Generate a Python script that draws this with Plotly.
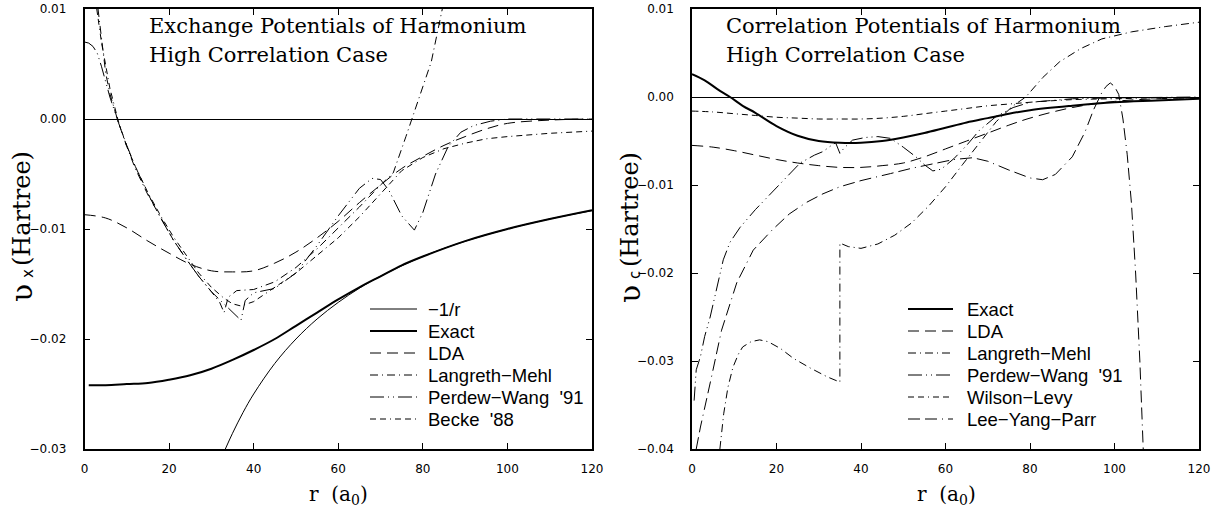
import plotly.graph_objects as go

# ---------------- Exchange potentials (left panel) ----------------
r_inv = [33.3, 35, 37.5, 40, 45, 50, 55, 60, 65, 70, 80, 90, 100, 110, 120]
v_inv = [-0.0300, -0.02857, -0.02667, -0.0250, -0.02222, -0.0200, -0.01818, -0.01667,
         -0.01538, -0.01429, -0.0125, -0.01111, -0.0100, -0.00909, -0.00833]

r_x_exact = [1, 5, 10, 15, 20, 25, 30, 35, 40, 45, 50, 55, 60, 65, 70, 75, 80, 90, 100, 110, 120]
v_x_exact = [-0.0242, -0.0242, -0.0241, -0.0240, -0.0237, -0.0233, -0.0227, -0.0219, -0.0210,
             -0.0200, -0.0188, -0.0176, -0.0164, -0.0153, -0.0143, -0.0133, -0.0125, -0.0111,
             -0.0100, -0.0091, -0.0083]

r_x_lda = [0, 5, 10, 15, 20, 25, 30, 35, 40, 45, 50, 55, 60, 65, 70, 75, 80, 85, 90, 95, 100, 110, 120]
v_x_lda = [-0.0087, -0.0090, -0.0099, -0.0111, -0.0122, -0.0132, -0.0138, -0.0139, -0.0138, -0.0131,
           -0.0121, -0.0108, -0.0093, -0.0076, -0.0060, -0.0045, -0.0034, -0.0024, -0.0016,
           -0.0009, -0.0004, -0.0001, 0.0]

r_x_lm = [3.2, 4, 5, 6, 8, 10, 12, 15, 18, 21, 24, 27, 30, 32, 33, 34, 36, 40, 45, 50, 55, 60,
          65, 70, 73, 76, 79, 82, 84.6]
v_x_lm = [0.0100, 0.0075, 0.0042, 0.0023, -0.0003, -0.0025, -0.0045, -0.0069, -0.0090, -0.0110,
          -0.0127, -0.0143, -0.0157, -0.0167, -0.0176, -0.0162, -0.0156, -0.0155, -0.0148,
          -0.0135, -0.0118, -0.0099, -0.0080, -0.0060, -0.0049, -0.0016, 0.0017, 0.0052, 0.0100]

r_x_pw = [0, 1, 2, 3, 4, 5, 6, 8, 10, 12, 15, 18, 21, 24, 27, 30, 33, 35, 37, 38, 40, 45, 50,
          55, 60, 65, 68, 70, 72, 75, 78, 80, 83, 86, 89, 92, 96, 100, 110, 120]
v_x_pw = [0.0070, 0.0069, 0.0066, 0.0060, 0.0048, 0.0033, 0.0020, -0.0003, -0.0024, -0.0043,
          -0.0068, -0.0090, -0.0110, -0.0127, -0.0143, -0.0157, -0.0168, -0.0176, -0.0183,
          -0.0165, -0.0158, -0.0154, -0.0140, -0.0115, -0.0088, -0.0063, -0.0054, -0.0055,
          -0.0065, -0.0088, -0.0101, -0.0085, -0.0050, -0.0025, -0.0012, -0.0006, -0.0002,
          0.0, 0.0, 0.0]

r_x_b88 = [2.9, 4, 6, 8, 10, 12, 15, 18, 21, 24, 27, 30, 33, 35, 37, 40, 45, 50, 55, 60, 65,
           70, 75, 80, 85, 90, 95, 100, 110, 120]
v_x_b88 = [0.0100, 0.0070, 0.0028, -0.0002, -0.0025, -0.0043, -0.0067, -0.0088, -0.0107, -0.0124,
           -0.0140, -0.0153, -0.0163, -0.0168, -0.0170, -0.0166, -0.0153, -0.0140, -0.0124,
           -0.0108, -0.0089, -0.0068, -0.0047, -0.0035, -0.0027, -0.0022, -0.0018, -0.0016,
           -0.0013, -0.0011]

# ---------------- Correlation potentials (right panel) ----------------
r_c_exact = [0, 3, 6, 9, 12, 15, 20, 25, 30, 35, 40, 45, 50, 55, 60, 65, 70, 75, 80, 90, 100, 110, 120]
v_c_exact = [0.0026, 0.0019, 0.0009, 0.0000, -0.0010, -0.0018, -0.0033, -0.0044, -0.0050, -0.0052,
             -0.0052, -0.0050, -0.0046, -0.0041, -0.0035, -0.0029, -0.0024, -0.0019, -0.0015,
             -0.0010, -0.0006, -0.0004, -0.0002]

r_c_lda = [0, 5, 10, 15, 20, 25, 30, 35, 40, 45, 50, 55, 60, 65, 70, 75, 80, 90, 100, 110, 120]
v_c_lda = [-0.0055, -0.0057, -0.0061, -0.0066, -0.0071, -0.0075, -0.0078, -0.0080, -0.0080, -0.0078,
           -0.0075, -0.0068, -0.0059, -0.0050, -0.0041, -0.0032, -0.0024, -0.0012, -0.0005,
           -0.0002, -0.0001]

r_c_lm = [6.6, 7.5, 8.5, 9.7, 11, 12, 14, 16, 18, 21, 24, 28, 32, 35, 35, 37, 40, 44, 48, 52,
          56, 60, 64, 68, 72, 76, 79, 83, 87, 92, 97, 104, 112, 120]
v_c_lm = [-0.0400, -0.0360, -0.0330, -0.0307, -0.0292, -0.0284, -0.0278, -0.0276, -0.0278, -0.0286,
          -0.0297, -0.0308, -0.0318, -0.0324, -0.0166, -0.0170, -0.0172, -0.0167, -0.0157,
          -0.0143, -0.0124, -0.0102, -0.0077, -0.0052, -0.0028, -0.0010, 0.0000, 0.0022,
          0.0040, 0.0055, 0.0066, 0.0074, 0.0080, 0.0085]

r_c_pw = [0.5, 1, 2, 3, 4.3, 5.5, 7.4, 9, 11.4, 15, 19, 22, 25.6, 29, 31, 33, 34, 35, 36, 38,
          41, 44, 47, 50, 53, 55, 57, 59, 62, 65, 68, 72, 76, 80, 90, 100, 120]
v_c_pw = [-0.0345, -0.0310, -0.0295, -0.0272, -0.0250, -0.0225, -0.0185, -0.0165, -0.0148,
          -0.0128, -0.0108, -0.0092, -0.0075, -0.0066, -0.0062, -0.0055, -0.0052, -0.0064,
          -0.0058, -0.0049, -0.0046, -0.0045, -0.0047, -0.0057, -0.0068, -0.0077, -0.0084,
          -0.0082, -0.0070, -0.0055, -0.0038, -0.0022, -0.0012, -0.0006, -0.0002, -0.0001, 0.0]

r_c_wl = [0, 5, 10, 15, 20, 25, 30, 35, 40, 45, 50, 55, 60, 65, 70, 75, 80, 90, 100, 110, 120]
v_c_wl = [-0.0016, -0.0017, -0.0019, -0.0021, -0.0023, -0.0024, -0.0025, -0.0025, -0.0025, -0.0024,
          -0.0022, -0.0019, -0.0016, -0.0013, -0.0010, -0.0008, -0.0006, -0.0003, -0.0002,
          -0.0001, -0.0001]

r_c_lyp = [1.0, 2, 4.3, 7, 10.6, 14.5, 19, 23, 27, 31, 35, 40, 47, 52, 57, 62, 66.5, 70, 75, 80,
           83, 86, 90, 93, 95, 97, 98, 99, 100, 101, 102, 103, 104, 105, 106, 106.8]
v_c_lyp = [-0.0400, -0.0375, -0.0325, -0.0265, -0.0211, -0.0174, -0.0151, -0.0133, -0.0120,
           -0.0110, -0.0102, -0.0095, -0.0087, -0.0081, -0.0076, -0.0071, -0.0069, -0.0073,
           -0.0083, -0.0092, -0.0094, -0.0088, -0.0068, -0.0040, -0.0015, 0.0005, 0.0012,
           0.0016, 0.0012, 0.0003, -0.0025, -0.0065, -0.0120, -0.0200, -0.0300, -0.0400]

x_ticks = [0, 20, 40, 60, 80, 100, 120]
y_ticks_x = [-0.03, -0.02, -0.01, 0.0, 0.01]
y_ticks_c = [-0.04, -0.03, -0.02, -0.01, 0.0, 0.01]

names_x = ["\u22121/r", "Exact", "LDA", "Langreth\u2212Mehl", "Perdew\u2212Wang  '91", "Becke  '88"]
names_c = ["Exact", "LDA", "Langreth\u2212Mehl", "Perdew\u2212Wang  '91", "Wilson\u2212Levy",
           "Lee\u2212Yang\u2212Parr"]

W, H = 1225, 510
SERIF = "DejaVu Serif"
SANS = "DejaVu Sans"
LEG_FONT = "Liberation Sans"

SOLID = "solid"
DASH_LDA = "11px,6px"
DASH_LM = "8px,4px,1px,4px"
DASH_PW = "14px,4px,1px,4px,1px,4px"
DASH_SHORT = "6px,4px,6px,4px,1px,4px"
DASH_LYP = "12px,5px,12px,5px,1px,5px"

series_x = [(r_inv, v_inv, 1, SOLID, "spline"), (r_x_exact, v_x_exact, 2, SOLID, "spline"),
            (r_x_lda, v_x_lda, 1, DASH_LDA, "spline"), (r_x_lm, v_x_lm, 1, DASH_LM, "linear"),
            (r_x_pw, v_x_pw, 1, DASH_PW, "linear"), (r_x_b88, v_x_b88, 1, DASH_SHORT, "linear")]
series_c = [(r_c_exact, v_c_exact, 2, SOLID, "spline"), (r_c_lda, v_c_lda, 1, DASH_LDA, "spline"),
            (r_c_lm, v_c_lm, 1, DASH_LM, "linear"), (r_c_pw, v_c_pw, 1, DASH_PW, "linear"),
            (r_c_wl, v_c_wl, 1, DASH_SHORT, "spline"), (r_c_lyp, v_c_lyp, 1, DASH_LYP, "linear")]

fig = go.Figure()


def px_x(p):
    return p / W


def px_y(p):
    return 1 - p / H


shapes = []
ann = []


def text(x, y, s, size, angle=0, xanchor="left", family=SERIF):
    ann.append(dict(x=px_x(x), y=px_y(y), xref="paper", yref="paper", text=s,
                    showarrow=False, xanchor=xanchor, yanchor="middle", textangle=angle,
                    font=dict(family=family, size=size, color="black")))


def panel(series, names, axis, lx0, lx1, tx):
    for i, ((x, y, w, dash, shp), nm) in enumerate(zip(series, names)):
        fig.add_trace(go.Scatter(
            x=x, y=y, name=nm, mode="lines", showlegend=False,
            line=dict(color="black", width=w, dash=dash, shape=shp),
            xaxis="x" if axis == 1 else "x2", yaxis="y" if axis == 1 else "y2",
            hoverinfo="skip"))
        yy = 309 + 22 * i
        shapes.append(dict(type="line", xref="paper", yref="paper",
                           x0=px_x(lx0), x1=px_x(lx1), y0=px_y(yy), y1=px_y(yy),
                           line=dict(color="black", width=w, dash=dash)))
        text(tx, yy, nm, 18.5, 0, "left", LEG_FONT)


panel(series_x, names_x, 1, 370, 417, 426)
panel(series_c, names_c, 2, 908, 953, 965)

ax_common = dict(showline=True, linecolor="black", linewidth=1.5, mirror="allticks",
                 ticks="inside", ticklen=6, tickcolor="black", tickwidth=1,
                 showgrid=False, tickfont=dict(family=SANS, size=12, color="black"))

fig.update_layout(
    width=W, height=H, margin=dict(l=0, r=0, t=0, b=0, autoexpand=False),
    paper_bgcolor="white", plot_bgcolor="white", showlegend=False,
    xaxis=dict(domain=[px_x(84.5), px_x(592)], range=[0, 120], tickvals=x_ticks,
               zeroline=False, anchor="y", ticklabelstandoff=8, **ax_common),
    yaxis=dict(domain=[px_y(449), px_y(9)], range=[-0.03, 0.01], tickvals=y_ticks_x,
               tickformat=".2f", zeroline=True, zerolinecolor="black", zerolinewidth=1,
               anchor="x", ticklabelstandoff=14, **ax_common),
    xaxis2=dict(domain=[px_x(692), px_x(1199)], range=[0, 120], tickvals=x_ticks,
                zeroline=False, anchor="y2", ticklabelstandoff=8, **ax_common),
    yaxis2=dict(domain=[px_y(449), px_y(9)], range=[-0.04, 0.01], tickvals=y_ticks_c,
                tickformat=".2f", zeroline=True, zerolinecolor="black", zerolinewidth=1,
                anchor="x2", ticklabelstandoff=14, **ax_common),
)

text(147, 26, "Exchange Potentials of Harmonium", 21)
text(147, 55, "High Correlation Case", 21)
text(724, 26, "Correlation Potentials of Harmonium", 21)
text(724, 55, "High Correlation Case", 21)

# y-axis titles: script v, subscript, (Hartree)
text(21, 293, "\u028B", 30, -90, "center")
text(28, 274, "x", 15, -90, "center", SANS)
text(22, 209, "(Hartree)", 24, -90, "center")
text(629, 294, "\u028B", 30, -90, "center")
text(635, 275, "c", 15, -90, "center", SANS)
text(630, 209, "(Hartree)", 24, -90, "center")

text(338, 495, "r  (a<sub>0</sub>)", 20, 0, "center")
text(946, 495, "r  (a<sub>0</sub>)", 20, 0, "center")
fig.update_layout(annotations=ann, shapes=shapes)

fig.write_html("out.html", config={"displayModeBar": False},
               post_script="document.body.style.margin='0';document.body.style.overflow='hidden';")
